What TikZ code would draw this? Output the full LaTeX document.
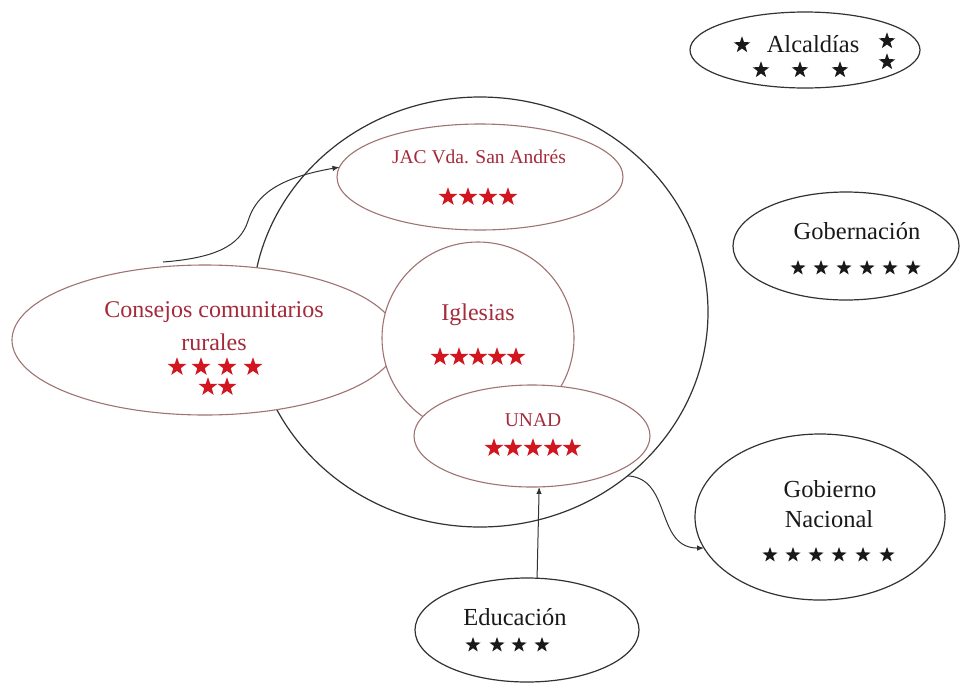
\documentclass[tikz,border=0pt]{standalone}
\usepackage{fontspec}
\setmainfont{Liberation Serif}
\usetikzlibrary{shapes.geometric,arrows.meta}
\definecolor{redtxt}{RGB}{165,42,58}
\definecolor{redstar}{RGB}{210,22,32}
\definecolor{redline}{RGB}{160,115,115}
\definecolor{blk}{RGB}{50,50,50}
\begin{document}
\begin{tikzpicture}[x=1pt,y=-1pt,
  oval/.style={ellipse,draw=blk,line width=1.2pt,fill=white,inner sep=0pt,outer sep=0pt},
  roval/.style={ellipse,draw=redline,line width=1.1pt,fill=white,inner sep=0pt,outer sep=0pt},
  bigtxt/.style={font=\fontsize{24.5}{26}\selectfont,inner sep=0pt,text=black!90},
  rbigtxt/.style={font=\fontsize{24}{26}\selectfont,inner sep=0pt,text=redtxt},
  rsmalltxt/.style={font=\fontsize{19.5}{22}\selectfont,inner sep=0pt,text=redtxt},
  bstar/.style={star,star points=5,star point ratio=2.5,fill=black!90,inner sep=0pt,minimum size=16pt},
  bstarl/.style={bstar,minimum size=17.5pt},
  rstar/.style={star,star points=5,star point ratio=2.5,fill=redstar,inner sep=0pt,minimum size=19.5pt},
  conn/.style={draw=blk,line width=1pt,-{Latex[length=7pt,width=5.5pt]}}
]
\useasboundingbox[fill=white] (0,0) rectangle (971,686);

% big circle and inner shapes
\node[oval,minimum width=456pt,minimum height=430pt] (bigc) at (480,312) {};
\node[roval,minimum width=286pt,minimum height=106pt] (jac) at (480,177) {};
\node[roval,minimum width=386pt,minimum height=150pt] (cons) at (205,340) {};
\node[roval,minimum width=192pt,minimum height=192pt] (igl) at (478,338) {};
\node[roval,minimum width=236pt,minimum height=102pt] (unad) at (532,436) {};

% outer shapes
\node[oval,minimum width=230pt,minimum height=76pt] (alc) at (805,50) {};
\node[oval,minimum width=226pt,minimum height=108pt] (gobe) at (846,246) {};
\node[oval,minimum width=250pt,minimum height=166pt] (gob) at (820,517) {};
\node[oval,minimum width=224pt,minimum height=104pt] (edu) at (527,630) {};

% texts
\node[rsmalltxt] (jac-t) at (479,157) {JAC Vda. San Andrés};
\node[rbigtxt] (cons-t1) at (214,312) {Consejos comunitarios};
\node[rbigtxt] (cons-t2) at (214,342) {rurales};
\node[rbigtxt] (igl-t) at (478,315) {Iglesias};
\node[rsmalltxt] (unad-t) at (533,420) {UNAD};
\node[bigtxt] (alc-t) at (813,44) {Alcaldías};
\node[bigtxt] (gobe-t) at (857,231) {Gobernación};
\node[bigtxt] (gob-t1) at (830,489) {Gobierno};
\node[bigtxt] (gob-t2) at (829,519) {Nacional};
\node[bigtxt] (edu-t) at (515,617) {Educación};

% red stars
\foreach \x [count=\i] in {448,468,488,508} \node[rstar] (jacs\i) at (\x,197) {};
\foreach \x [count=\i] in {440,459,478,497,516} \node[rstar] (igls\i) at (\x,357) {};
\foreach \x [count=\i] in {494,513,533,553,572} \node[rstar] (unads\i) at (\x,448) {};
\foreach \x [count=\i] in {177,201,227,253} \node[rstar] (consa\i) at (\x,367) {};
\foreach \x [count=\i] in {208,227} \node[rstar] (consb\i) at (\x,387) {};

% black stars
\node[bstarl] (alcs1) at (742,45) {};
\node[bstarl] (alcs2) at (887,41) {};
\foreach \x [count=\i] in {761,800,840} \node[bstarl] (alcr\i) at (\x,70) {};
\node[bstarl] (alcs3) at (887,62) {};
\foreach \x [count=\i] in {798,821,844,867,890,913} \node[bstar] (gobes\i) at (\x,268) {};
\foreach \x [count=\i] in {770,793,816,839,863,887} \node[bstar] (gobs\i) at (\x,555) {};
\foreach \x [count=\i] in {473,497,519,542} \node[bstar] (edus\i) at (\x,645) {};

% connectors
\coordinate (c1) at (163,262);
\draw[conn] (c1) .. controls (215,258) and (240,246) .. (248,221)
  .. controls (256,195) and (278,178) .. (jac.176);
\draw[conn] (bigc.-48) .. controls (672,478) and (655,548) .. (gob.195);
\draw[conn] (edu.79) -- (unad.-82);
\end{tikzpicture}
\end{document}
